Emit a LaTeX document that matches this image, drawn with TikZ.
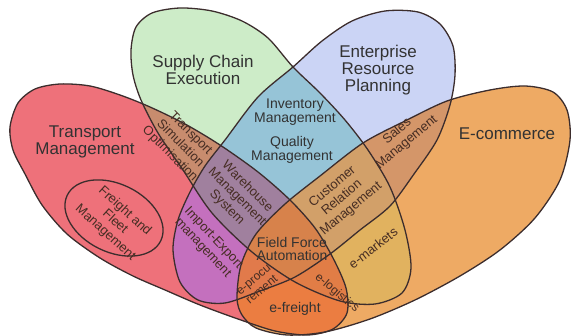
\documentclass[tikz,border=0pt]{standalone}
\usepackage{fontspec}
\setmainfont{Liberation Sans}
\definecolor{v_red}{RGB}{238,113,122}
\definecolor{v_green}{RGB}{205,236,200}
\definecolor{v_blue}{RGB}{203,212,245}
\definecolor{v_orange}{RGB}{238,170,100}
\definecolor{v_rg}{RGB}{200,140,110}
\definecolor{v_rb}{RGB}{196,112,190}
\definecolor{v_ro}{RGB}{235,125,65}
\definecolor{v_gb}{RGB}{150,196,215}
\definecolor{v_go}{RGB}{225,178,95}
\definecolor{v_bo}{RGB}{212,150,105}
\definecolor{v_rgb}{RGB}{160,128,158}
\definecolor{v_rgo}{RGB}{225,125,70}
\definecolor{v_rbo}{RGB}{225,122,75}
\definecolor{v_gbo}{RGB}{210,160,105}
\definecolor{v_all}{RGB}{215,130,75}
\definecolor{v_ink}{RGB}{50,50,50}
\definecolor{v_brown}{RGB}{70,45,35}
\definecolor{v_line}{RGB}{60,45,45}
\tikzstyle{hd}=[align=center,text=v_ink,font=\fontsize{17}{17}\selectfont,inner sep=0pt]
\tikzstyle{sb}=[align=center,text=v_brown,font=\fontsize{13}{14.5}\selectfont,inner sep=0pt]
\tikzstyle{sm}=[sb,font=\fontsize{12}{13}\selectfont]
\tikzstyle{md}=[sb,text=v_ink,font=\fontsize{14}{13.5}\selectfont]
\tikzstyle{rim}=[draw=v_line,line width=1.3pt]
\def\redpath{plot [smooth cycle] coordinates {(10,127) (18,103) (35,89) (60,84) (90,86)
  (120,95) (150,107) (185,124) (220,145) (258,172) (290,200) (315,228) (333,258)
  (346,288) (347,313) (333,329) (308,335) (275,331) (238,319) (200,305) (165,290)
  (133,276) (100,258) (67,234) (42,205) (25,174) (13,150)}}
\def\greenpath{plot [smooth cycle] coordinates {(131,50) (136,27) (152,13) (180,8)
  (212,11) (242,21) (268,38) (293,67) (320,93) (345,120) (368,150) (390,187) (405,230)
  (411,268) (402,293) (375,304) (340,301) (295,282) (252,252) (212,213) (183,170)
  (158,133) (141,100) (133,75)}}
\def\bluepath{plot [smooth cycle] coordinates {(293,67) (322,41) (352,21) (385,11)
  (418,12) (440,24) (453,46) (455,75) (450,105) (437,140) (414,174) (390,206) (360,230)
  (330,254) (295,277) (260,291) (225,303) (198,300) (180,282) (173,250) (178,220)
  (190,192) (205,166) (225,140) (258,97)}}
\def\orangepath{plot [smooth cycle] coordinates {(237,298) (241,265) (256,234) (285,204)
  (320,176) (363,143) (405,121) (447,101) (490,90) (525,86) (553,92) (567,110) (570,140)
  (560,180) (535,218) (500,250) (460,276) (415,300) (370,319) (325,332) (287,335)
  (256,328) (242,315)}}

\begin{document}
\begin{tikzpicture}[x=1pt,y=-1pt]
            \useasboundingbox (0,0) rectangle (571,336);
            \fill [v_red] \redpath;
            \fill [v_green] \greenpath;
            \fill [v_blue] \bluepath;
            \fill [v_orange] \orangepath;
            \begin{scope} \clip \redpath; \fill [v_rg] \greenpath; \end{scope}
            \begin{scope} \clip \redpath; \fill [v_rb] \bluepath; \end{scope}
            \begin{scope} \clip \redpath; \fill [v_ro] \orangepath; \end{scope}
            \begin{scope} \clip \greenpath; \fill [v_gb] \bluepath; \end{scope}
            \begin{scope} \clip \greenpath; \fill [v_go] \orangepath; \end{scope}
            \begin{scope} \clip \bluepath; \fill [v_bo] \orangepath; \end{scope}
            \begin{scope} \clip \redpath; \clip \greenpath; \fill [v_rgb] \bluepath; \end{scope}
            \begin{scope} \clip \redpath; \clip \greenpath; \fill [v_rgo] \orangepath; \end{scope}
            \begin{scope} \clip \redpath; \clip \bluepath; \fill [v_rbo] \orangepath; \end{scope}
            \begin{scope} \clip \greenpath; \clip \bluepath; \fill [v_gbo] \orangepath; \end{scope}
            \begin{scope} \clip \redpath; \clip \greenpath; \clip \bluepath; \fill [v_all] \orangepath; \end{scope}
            \draw [style=rim] \redpath;
            \draw [style=rim] \greenpath;
            \draw [style=rim] \bluepath;
            \draw [style=rim] \orangepath;
            \draw [style=rim] (114,218) ellipse [x radius=52pt, y radius=34pt, rotate=-26];
            \node [style=hd] (0) at (203,70) {Supply Chain\\Execution};
            \node [style=hd] (1) at (378,70) {Enterprise\\Resource\\Planning};
            \node [style=hd] (2) at (85,142) {Transport\\Management};
            \node [style=hd] (3) at (507,134) {E-commerce};
            \node [style=md] (4) at (295,112) {Inventory\\Management};
            \node [style=md] (5) at (292,150) {Quality\\Management};
            \node [style=sb, rotate=-45] (6) at (180,144) {Transport\\Simulation\\Optimisation};
            \node [style=sb, rotate=-45] (7) at (237,197) {Warehouse\\Management\\System};
            \node [style=sb, rotate=-47] (8) at (208,243) {Import-Export\\management};
            \node [style=sb, rotate=40] (9) at (342,198) {Customer\\Relation\\Management};
            \node [style=sb, rotate=40] (10) at (402,137) {Sales\\Management};
            \node [style=md] (11) at (292,249) {Field Force\\Automation};
            \node [style=sm, rotate=40] (12) at (258,285) {e-procu\\rement};
            \node [style=sm, rotate=-40] (13) at (337,293) {e-logistics};
            \node [style=sb, rotate=38] (14) at (373,248) {e-markets};
            \node [style=md] (15) at (295,309) {e-freight};
            \node [style=sb, rotate=-42] (16) at (115,222) {Freight and\\Fleet\\Management};
    \end{tikzpicture}
\end{document}
